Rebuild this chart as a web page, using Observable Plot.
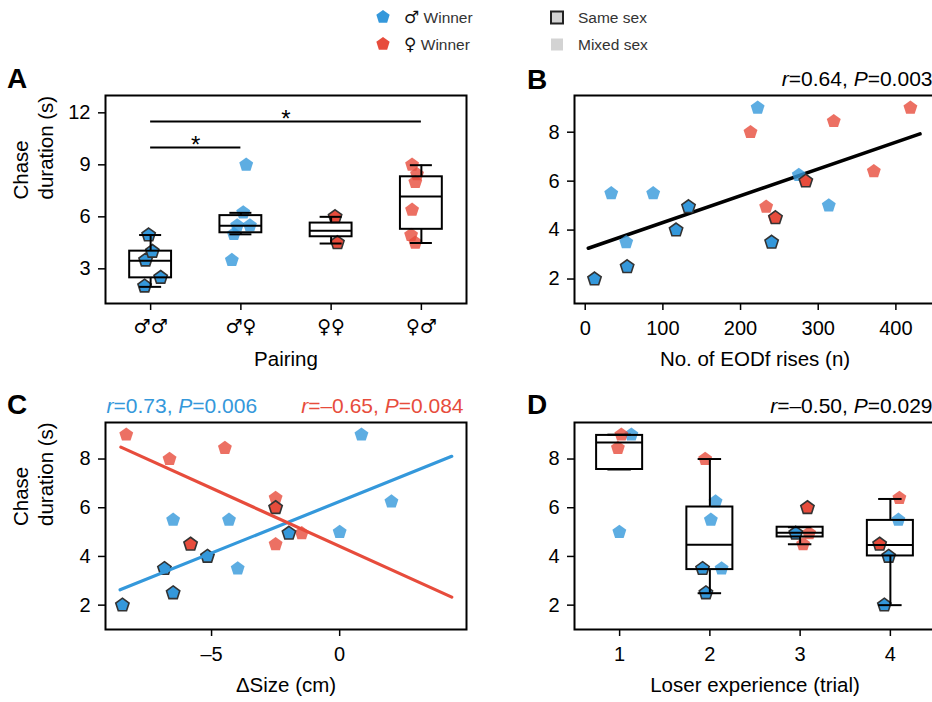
<!DOCTYPE html>
<html>
<head>
<meta charset="utf-8">
<script src="https://cdn.jsdelivr.net/npm/d3@7"></script>
<script src="https://cdn.jsdelivr.net/npm/@observablehq/plot@0.6"></script>
<style>
  html, body { margin: 0; padding: 0; background: #fff; }
  #root { position: relative; width: 932px; height: 702px; overflow: hidden; background: #fff; }
  #root > svg { position: absolute; }
</style>
</head>
<body>
<div id="root"></div>
<script>
// ---------------- DATA ----------------
// one entry per fish pair (19 pairs)
const winnerSex     = ["m","m","m","m","m", "m","m","m","m","m","m", "f","f", "f","f","f","f","f","f"];
const pairType      = ["same","same","same","same","same", "mixed","mixed","mixed","mixed","mixed","mixed", "same","same", "mixed","mixed","mixed","mixed","mixed","mixed"];
const chaseDuration = [2.0, 2.5, 3.5, 4.0, 4.95,  9.0, 6.25, 5.5, 5.5, 5.0, 3.5,  6.0, 4.5,  9.0, 8.45, 8.0, 6.4, 4.95, 4.5];
const pairingIndex  = [1,1,1,1,1, 2,2,2,2,2,2, 3,3, 4,4,4,4,4,4];
const jitterA       = [-0.067, 0.111, -0.056, 0.019, -0.022,  0.059, 0.026, -0.041, 0.1, -0.078, -0.1,  0.044, 0.07,  -0.103, -0.048, -0.067, -0.103, -0.114, -0.067];
const eodfRises     = [12, 54, 240, 117, 133,  222, 275, 33.5, 87.5, 313.6, 52.8,  284, 245,  418.7, 320, 212.8, 371.6, 233, 244];
const sizeDiff      = [-8.48, -6.5, -6.84, -5.16, -1.98,  0.85, 2.02, -6.5, -4.32, 0.0, -3.98,  -2.5, -5.82,  -8.33, -4.48, -6.64, -2.5, -1.48, -2.5];
const loserTrial    = [4, 2, 2, 4, 3,  1, 2, 2, 4, 1, 2,  3, 4,  1, 1, 2, 4, 3, 3];
const jitterD       = [-0.067, -0.044, -0.081, -0.019, -0.048,  0.13, 0.063, 0.011, 0.089, -0.003, 0.13,  0.081, -0.119,  0.019, -0.019, -0.052, 0.1, 0.1, 0.033];

// panel A: pairing categories and box summaries
const pairingLabels = ["♂♂", "♂♀", "♀♀", "♀♂"];
const boxA_lo  = [1.96, 4.99, 4.46, 4.49];
const boxA_q1  = [2.48, 5.08, 4.85, 5.28];
const boxA_med = [3.46, 5.49, 5.20, 7.17];
const boxA_q3  = [4.02, 6.07, 5.64, 8.31];
const boxA_hi  = [4.95, 6.23, 6.00, 8.98];
// significance brackets in panel A
const sigFrom  = [1, 1];
const sigTo    = [2, 4];
const sigLevel = [10, 11.5];
const sigText  = ["*", "*"];

// panel D: loser experience trials and box summaries
const trialLabels = ["1", "2", "3", "4"];
const boxD_lo  = [7.57, 2.49, 4.50, 2.00];
const boxD_q1  = [7.57, 3.46, 4.80, 4.02];
const boxD_med = [8.68, 4.48, 4.97, 4.47];
const boxD_q3  = [8.97, 6.03, 5.20, 5.48];
const boxD_hi  = [9.00, 8.00, 5.20, 6.36];

// regression lines (endpoints)
const fitB_x = [4, 431],          fitB_y = [3.26, 7.93];
const fitCm_x = [-8.57, 4.375],   fitCm_y = [2.63, 8.11];
const fitCf_x = [-8.54, 4.375],   fitCf_y = [8.49, 2.33];

// statistics annotations
const statsB = "r=0.64, P=0.003";
const statsCm = "r=0.73, P=0.006";
const statsCf = "r=–0.65, P=0.084";
const statsD = "r=–0.50, P=0.029";

// legend
const legendSymbols = ["♂", "♀"];
const legendWinner = "Winner";
const legendPair = ["Same sex", "Mixed sex"];
const panelLetters = ["A", "B", "C", "D"];

// ---------------- STYLE ----------------
const FONT = '"Liberation Sans", Arial, Helvetica, sans-serif';
const SYMFONT = '"DejaVu Sans", "Liberation Sans", sans-serif';
const BLUE = "#3498db", RED = "#e74c3c";
const sexColor = s => s === "m" ? BLUE : RED;

const pent = {
  draw(context, size) {
    const r = Math.sqrt(size / Math.PI);
    for (let k = 0; k < 5; ++k) {
      const a = -Math.PI / 2 + k * 2 * Math.PI / 5;
      const x = r * Math.cos(a), y = r * Math.sin(a);
      if (k === 0) context.moveTo(x, y); else context.lineTo(x, y);
    }
    context.closePath();
  }
};

const pairs = chaseDuration.map((y, i) => ({
  y, sex: winnerSex[i], type: pairType[i], color: sexColor(winnerSex[i]),
  a: pairingIndex[i] + jitterA[i], eodf: eodfRises[i], size: sizeDiff[i], d: loserTrial[i] + jitterD[i]
}));
const boxA = pairingLabels.map((l, i) => ({x: i + 1, lo: boxA_lo[i], q1: boxA_q1[i], med: boxA_med[i], q3: boxA_q3[i], hi: boxA_hi[i]}));
const boxD = trialLabels.map((l, i) => ({x: i + 1, lo: boxD_lo[i], q1: boxD_q1[i], med: boxD_med[i], q3: boxD_q3[i], hi: boxD_hi[i]}));
const sigs = sigFrom.map((f, i) => ({x1: f, x2: sigTo[i], y: sigLevel[i], t: sigText[i]}));
const line = (xs, ys) => xs.map((x, i) => ({x, y: ys[i]}));

function dotMarks(xKey) {
  return [
    Plot.dot(pairs.filter(d => d.type === "mixed"), {x: xKey, y: "y", symbol: pent, r: 7.3, fill: "color", fillOpacity: 0.8, stroke: "none"}),
    Plot.dot(pairs.filter(d => d.type === "same"), {x: xKey, y: "y", symbol: pent, r: 7.0, fill: "color", stroke: "#333", strokeWidth: 1.6})
  ];
}
function boxMarks(box, hw, cw) {
  const s = {stroke: "black", strokeWidth: 2};
  return [
    Plot.ruleX(box, {x: "x", y1: "lo", y2: "q1", ...s}),
    Plot.ruleX(box, {x: "x", y1: "q3", y2: "hi", ...s}),
    Plot.ruleY(box, {y: "lo", x1: d => d.x - cw, x2: d => d.x + cw, ...s}),
    Plot.ruleY(box, {y: "hi", x1: d => d.x - cw, x2: d => d.x + cw, ...s}),
    Plot.rect(box, {x1: d => d.x - hw, x2: d => d.x + hw, y1: "q1", y2: "q3", fill: "none", ...s}),
    Plot.ruleY(box, {y: "med", x1: d => d.x - hw, x2: d => d.x + hw, ...s})
  ];
}
const axisStyle = {tickSize: 7, tickPadding: 8, fontSize: 20, strokeWidth: 1.5};
function yTitle(t) {
  return Plot.text([t], {text: d => d, frameAnchor: "left", rotate: -90, dx: -96, lineAnchor: "top", lineHeight: 1.25, fontSize: 20.5});
}
function xTitle(t) {
  return Plot.text([t], {text: d => d, frameAnchor: "bottom", lineAnchor: "bottom", dy: 62, fontSize: 20.5});
}
function xAxis(ticks, fmt, extra = {}) {
  return Plot.axisX({ticks, tickFormat: fmt, ...axisStyle, tickPadding: 10, label: null, ...extra});
}
function statText(t, anchor, fill = "black") {
  return Plot.text([t], {text: d => d, frameAnchor: anchor === "end" ? "top-right" : "top-left", textAnchor: anchor, lineAnchor: "bottom", dy: -10, dx: anchor === "end" ? -3 : 1, fontSize: 21, fill});
}
function italicize(svg) {
  svg.querySelectorAll("text").forEach(t => {
    const s = t.textContent;
    if (!/^r=.*P=/.test(s) || t.children.length) return;
    t.textContent = "";
    s.match(/[rP](?==)|[^rP]+|[rP]/g).forEach(tok => {
      const ts = document.createElementNS("http://www.w3.org/2000/svg", "tspan");
      ts.textContent = tok;
      if (/^[rP]$/.test(tok)) ts.setAttribute("font-style", "italic");
      t.appendChild(ts);
    });
  });
}
const baseStyle = {fontFamily: FONT, fontSize: "20px", background: "transparent", overflow: "visible", color: "black"};
const root = document.getElementById("root");
function place(svg, left, top) {
  svg.style.left = left + "px";
  svg.style.top = top + "px";
  italicize(svg);
  root.appendChild(svg);
}

// ---------------- PANEL A ----------------
place(Plot.plot({
  width: 470, height: 320, marginTop: 35, marginRight: 4, marginBottom: 77, marginLeft: 105,
  x: {domain: [0.5, 4.5]}, y: {domain: [1, 13]}, color: {type: "identity"}, style: baseStyle,
  marks: [
    ...dotMarks("a"),
    ...boxMarks(boxA, 0.232, 0.122),
    Plot.ruleY(sigs, {y: "y", x1: "x1", x2: "x2", stroke: "black", strokeWidth: 2}),
    Plot.text(sigs, {x: d => (d.x1 + d.x2) / 2, y: "y", text: "t", lineAnchor: "bottom", dy: 5, fontSize: 24}),
    Plot.axisY({ticks: [3, 6, 9, 12], ...axisStyle, label: null}),
    xAxis([1, 2, 3, 4], d => pairingLabels[d - 1], {fontFamily: SYMFONT, fontSize: 19, tickPadding: 9}),
    xTitle("Pairing"),
    yTitle("Chase\nduration (s)"),
    Plot.frame({stroke: "black", strokeWidth: 2})
  ]
}), 0, 60);

// ---------------- PANEL B ----------------
place(Plot.plot({
  width: 470, height: 320, marginTop: 35, marginRight: 4, marginBottom: 77, marginLeft: 105,
  x: {domain: [-13.8, 451]}, y: {domain: [1, 9.5]}, color: {type: "identity"}, style: baseStyle,
  marks: [
    Plot.line(line(fitB_x, fitB_y), {x: "x", y: "y", stroke: "black", strokeWidth: 3.6}),
    ...dotMarks("eodf"),
    Plot.axisY({ticks: [2, 4, 6, 8], ...axisStyle, label: null}),
    xAxis([0, 100, 200, 300, 400], d => String(d)),
    xTitle("No. of EODf rises (n)"),
    statText(statsB, "end"),
    Plot.frame({stroke: "black", strokeWidth: 2})
  ]
}), 469, 60);

// ---------------- PANEL C ----------------
place(Plot.plot({
  width: 470, height: 322, marginTop: 42, marginRight: 4, marginBottom: 73, marginLeft: 105,
  x: {domain: [-9.14, 4.95]}, y: {domain: [1, 9.5]}, color: {type: "identity"}, style: baseStyle,
  marks: [
    ...dotMarks("size"),
    Plot.line(line(fitCm_x, fitCm_y), {x: "x", y: "y", stroke: BLUE, strokeWidth: 3.2}),
    Plot.line(line(fitCf_x, fitCf_y), {x: "x", y: "y", stroke: RED, strokeWidth: 3.2}),
    Plot.axisY({ticks: [2, 4, 6, 8], ...axisStyle, label: null}),
    xAxis([-5, 0], d => d < 0 ? "–" + Math.abs(d) : String(d)),
    xTitle("ΔSize (cm)"),
    yTitle("Chase\nduration (s)"),
    statText(statsCm, "start", BLUE),
    statText(statsCf, "end", RED),
    Plot.frame({stroke: "black", strokeWidth: 2})
  ]
}), 0, 380);

// ---------------- PANEL D ----------------
place(Plot.plot({
  width: 470, height: 322, marginTop: 42, marginRight: 4, marginBottom: 73, marginLeft: 105,
  x: {domain: [0.5, 4.5]}, y: {domain: [1, 9.5]}, color: {type: "identity"}, style: baseStyle,
  marks: [
    ...dotMarks("d"),
    ...boxMarks(boxD, 0.255, 0.13),
    Plot.axisY({ticks: [2, 4, 6, 8], ...axisStyle, label: null}),
    xAxis([1, 2, 3, 4], d => trialLabels[d - 1]),
    xTitle("Loser experience (trial)"),
    statText(statsD, "end"),
    Plot.frame({stroke: "black", strokeWidth: 2})
  ]
}), 469, 380);

// ---------------- OVERLAY: panel letters + legend ----------------
const ov = d3.create("svg").attr("width", 932).attr("height", 702)
  .style("left", "0px").style("top", "0px").style("pointer-events", "none")
  .attr("font-family", FONT);
const letterPos = [[7, 88], [527, 89], [7, 414], [527, 414]];
ov.selectAll("text.letter").data(panelLetters).join("text").attr("class", "letter")
  .attr("x", (d, i) => letterPos[i][0]).attr("y", (d, i) => letterPos[i][1])
  .attr("font-size", 28).attr("font-weight", "bold").attr("fill", "black").text(d => d);

const pentPath = r => { const p = d3.path(); pent.draw(p, Math.PI * r * r); return p.toString(); };
const legRowY = [17, 44];
legendSymbols.forEach((sym, i) => {
  ov.append("path").attr("d", pentPath(7)).attr("transform", `translate(383,${legRowY[i]})`).attr("fill", i === 0 ? BLUE : RED);
  const t = ov.append("text").attr("x", 404).attr("y", legRowY[i] + 6).attr("font-size", 15.5).attr("fill", "#333");
  t.append("tspan").attr("font-family", SYMFONT).attr("font-size", 17).attr("fill", "#111").text(sym);
  t.append("tspan").text(" " + legendWinner);
});
legendPair.forEach((t, i) => {
  ov.append("rect").attr("x", 551).attr("y", legRowY[i] - 5.5).attr("width", 12).attr("height", 12)
    .attr("fill", "#d3d3d3").attr("stroke", i === 0 ? "#222" : "none").attr("stroke-width", 2);
  ov.append("text").attr("x", 578).attr("y", legRowY[i] + 6).attr("font-size", 15.5).attr("fill", "#333").text(t);
});
root.appendChild(ov.node());
</script>
</body>
</html>
